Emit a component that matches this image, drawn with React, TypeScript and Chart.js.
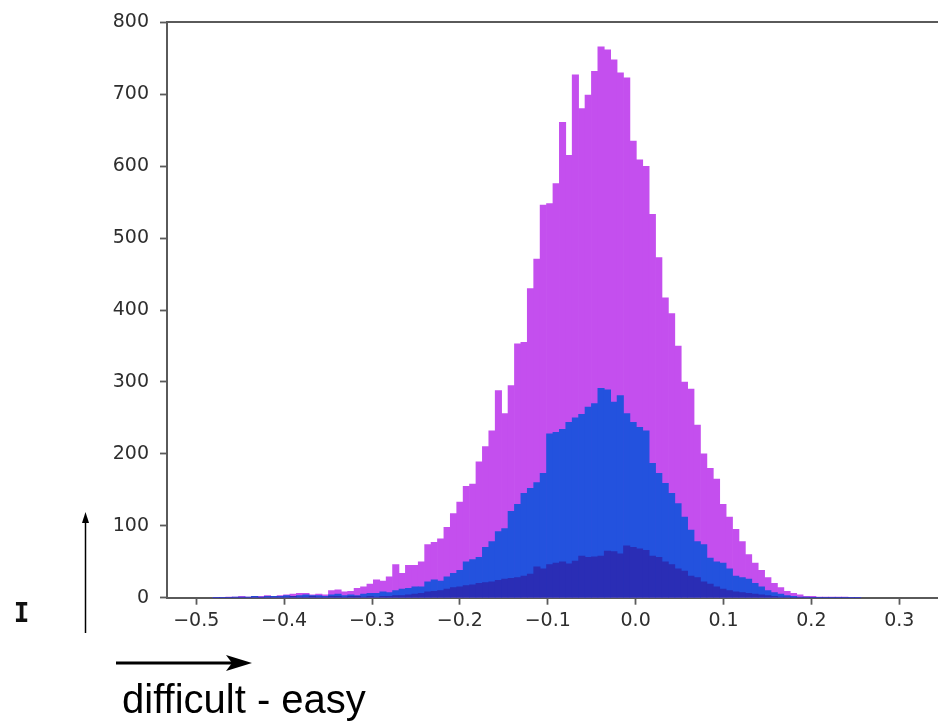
import React, { useEffect, useRef } from "react";
import { Chart, registerables } from "chart.js";

Chart.register(...registerables);

// Histogram bin structure (left edge of first bin and common bin width)
const BIN_START = -0.481;
const BIN_WIDTH = 0.0073;

// Counts per bin
const MAGENTA_COUNTS = [
  0, 0, 1, 1, 2, 1, 2, 2, 3, 2,
  3, 4, 5, 6, 6, 4, 5, 4, 10, 11,
  8, 9, 13, 15, 19, 25, 23, 29, 46, 34,
  45, 45, 50, 74, 77, 82, 98, 117, 133, 155,
  158, 189, 210, 232, 288, 256, 295, 353, 355, 430,
  471, 546, 548, 576, 661, 615, 727, 680, 699, 732,
  766, 762, 748, 730, 723, 635, 609, 600, 533, 473,
  417, 395, 350, 300, 290, 240, 200, 180, 165, 130,
  112, 95, 78, 60, 48, 38, 28, 20, 14, 9,
  6, 4, 2, 2, 1, 1, 1, 1, 1, 0,
  0,
];

const BLUE_COUNTS = [
  0, 0, 0, 1, 1, 1, 2, 1, 2, 2,
  2, 3, 2, 3, 4, 3, 3, 2, 4, 5,
  3, 4, 3, 5, 6, 6, 8, 7, 10, 12,
  13, 15, 15, 22, 25, 23, 29, 34, 38, 50,
  53, 56, 70, 78, 92, 96, 120, 130, 145, 152,
  160, 173, 228, 230, 234, 244, 250, 255, 265, 270,
  291, 289, 272, 281, 256, 244, 237, 232, 187, 173,
  159, 145, 131, 112, 94, 78, 74, 55, 50, 48,
  40, 30, 28, 26, 20, 15, 10, 7, 5, 3,
  2, 1, 1, 0, 0, 0, 0, 0, 0, 0,
  0,
];

const NAVY_COUNTS = [
  0, 0, 0, 0, 0, 0, 1, 0, 1, 1,
  1, 1, 2, 1, 1, 2, 1, 1, 2, 2,
  1, 2, 2, 1, 2, 1, 2, 2, 3, 3,
  4, 5, 6, 8, 9, 10, 12, 14, 15, 17,
  18, 20, 21, 22, 24, 26, 27, 28, 30, 33,
  43, 40, 46, 48, 50, 47, 51, 58, 56, 57,
  58, 65, 64, 61, 72, 70, 68, 66, 58, 56,
  50, 46, 40, 37, 30, 28, 22, 19, 15, 12,
  10, 8, 7, 6, 5, 4, 3, 2, 1, 1,
  0, 0, 0, 0, 0, 0, 0, 0, 0, 0,
  0,
];

const X_TICKS = [-0.5, -0.4, -0.3, -0.2, -0.1, 0.0, 0.1, 0.2, 0.3];
const Y_TICKS = [0, 100, 200, 300, 400, 500, 600, 700, 800];

const X_MIN = -0.5333;
const X_MAX = 0.3441;
const Y_MIN = 0;
const Y_MAX = 800;

const AXIS_COLOR = "#5a5a5a";
const TEXT_COLOR = "#2e2e2e";

const binCenter = (i: number) => BIN_START + (i + 0.5) * BIN_WIDTH;
const toPoints = (counts: number[]) => counts.map((c, i) => ({ x: binCenter(i), y: c }));

const formatX = (v: number) => {
  if (Math.abs(v) < 1e-9) return "0.0";
  return v.toFixed(1).replace("-", "\u2212");
};

const topSpine = {
  id: "topSpine",
  afterDraw(chart: any) {
    const { ctx, chartArea } = chart;
    ctx.save();
    ctx.strokeStyle = AXIS_COLOR;
    ctx.lineWidth = 2;
    ctx.beginPath();
    ctx.moveTo(chartArea.left, Math.round(chartArea.top));
    ctx.lineTo(chartArea.right, Math.round(chartArea.top));
    ctx.stroke();
    ctx.restore();
  },
};

function HistogramChart() {
  const canvasRef = useRef<HTMLCanvasElement | null>(null);

  useEffect(() => {
    if (!canvasRef.current) return;
    const tickFont = { family: "'DejaVu Sans', sans-serif", size: 19 };
    const chart = new Chart(canvasRef.current, {
      type: "bar",
      data: {
        datasets: [
          {
            label: "navy",
            data: toPoints(NAVY_COUNTS),
            backgroundColor: "#2a2db5",
            order: 1,
          },
          {
            label: "blue",
            data: toPoints(BLUE_COUNTS),
            backgroundColor: "#2352de",
            order: 2,
          },
          {
            label: "magenta",
            data: toPoints(MAGENTA_COUNTS),
            backgroundColor: "#c44fee",
            order: 3,
          },
        ],
      },
      options: {
        responsive: false,
        animation: false,
        devicePixelRatio: 1,
        events: [],
        layout: { padding: { top: 21, left: 0, right: 0, bottom: 0 } },
        datasets: {
          bar: {
            grouped: false,
            barPercentage: 1,
            categoryPercentage: 1,
            borderWidth: 0,
          },
        },
        plugins: {
          legend: { display: false },
          tooltip: { enabled: false },
        },
        scales: {
          x: {
            type: "linear",
            min: X_MIN,
            max: X_MAX,
            offset: false,
            afterBuildTicks: (scale: any) => {
              scale.ticks = X_TICKS.map((v) => ({ value: v }));
            },
            afterFit: (scale: any) => {
              scale.height = 126.3;
            },
            ticks: {
              includeBounds: false,
              autoSkip: false,
              maxRotation: 0,
              minRotation: 0,
              padding: 5,
              color: TEXT_COLOR,
              font: tickFont,
              callback: (v: any) => formatX(Number(v)),
            },
            grid: {
              offset: false,
              drawOnChartArea: false,
              drawTicks: true,
              tickLength: 7,
              tickWidth: 1.8,
              tickColor: AXIS_COLOR,
            },
            border: { display: true, color: AXIS_COLOR, width: 2 },
          },
          y: {
            type: "linear",
            min: Y_MIN,
            max: Y_MAX,
            afterBuildTicks: (scale: any) => {
              scale.ticks = Y_TICKS.map((v) => ({ value: v }));
            },
            afterFit: (scale: any) => {
              scale.width = 167;
            },
            ticks: {
              includeBounds: false,
              autoSkip: false,
              padding: 11,
              color: TEXT_COLOR,
              font: tickFont,
              callback: (v: any) => String(v),
            },
            grid: {
              drawOnChartArea: false,
              drawTicks: true,
              tickLength: 7,
              tickWidth: 1.8,
              tickColor: AXIS_COLOR,
            },
            border: { display: true, color: AXIS_COLOR, width: 2 },
          },
        },
      },
      plugins: [topSpine],
    } as any);
    return () => chart.destroy();
  }, []);

  return (
    <canvas
      ref={canvasRef}
      width={938}
      height={724}
      style={{ position: "absolute", left: 0, top: 0, width: 938, height: 724 }}
    />
  );
}

export default function App() {
  return (
    <div
      style={{
        position: "absolute",
        left: 0,
        top: 0,
        width: 938,
        height: 724,
        background: "#ffffff",
        overflow: "hidden",
      }}
    >
      <HistogramChart />
      <svg
        width={938}
        height={724}
        style={{ position: "absolute", left: 0, top: 0, pointerEvents: "none" }}
      >
        <text
          x={21.5}
          y={622}
          fontFamily="'DejaVu Sans Mono', monospace"
          fontWeight="bold"
          fontSize={26}
          textAnchor="middle"
          fill="#111"
        >
          I
        </text>
        <line x1={85.5} y1={633} x2={85.5} y2={520} stroke="#000" strokeWidth={1.5} />
        <polygon points="85.5,512 82,523 89,523" fill="#000" />
        <line x1={116} y1={663} x2={234} y2={663} stroke="#000" strokeWidth={3.2} />
        <polygon points="252,663 226,655 232,663 226,671" fill="#000" />
        <text
          x={122}
          y={713}
          fontFamily="'Liberation Sans', Arial, sans-serif"
          fontSize={40}
          fill="#000"
        >
          difficult - easy
        </text>
      </svg>
    </div>
  );
}
